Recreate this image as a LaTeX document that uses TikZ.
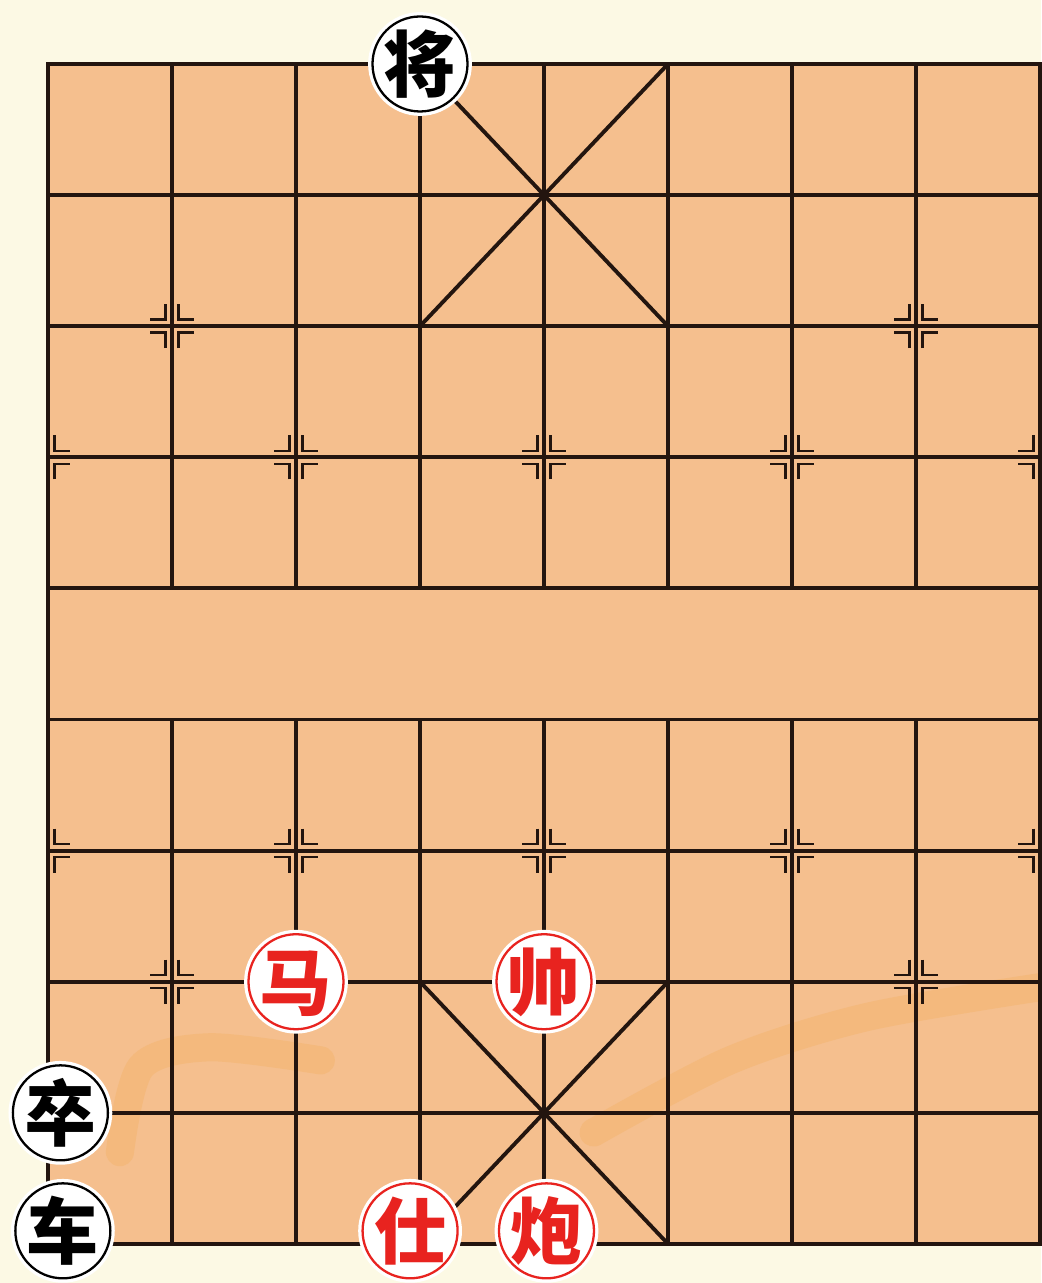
\documentclass[tikz,border=0pt]{standalone}
\usepackage{fontspec}
\usepackage{tikz}
\newfontfamily\cjk{Noto Sans CJK SC}
\definecolor{paper}{HTML}{FCF9E4}
\definecolor{boardbg}{HTML}{F5BF8E}
\definecolor{gridline}{HTML}{23150F}
\definecolor{piecered}{HTML}{E8231F}
\definecolor{brush}{HTML}{F0A030}
% glyph with no size, centred on the node
\newcommand{\pz}[1]{\makebox[0pt]{\raisebox{-0.38em}[0pt][0pt]{#1}}}

\tikzset{
  posmark/.pic={
    \draw[markline] (0.13cm,0.44cm) -- (0.13cm,0.13cm) -- (0.44cm,0.13cm);
    \draw[markline] (0.13cm,-0.44cm) -- (0.13cm,-0.13cm) -- (0.44cm,-0.13cm);
  }
}

\begin{document}
\begin{tikzpicture}[x=2.48cm, y=-2.622cm,
                    gridln/.style={draw=gridline, line width=2.2pt},
                    markline/.style={draw=gridline, line width=1.4pt},
                    piece/.style={circle, fill=white, draw=#1, line width=1.3pt,
                                  minimum size=1.9cm, inner sep=0pt,
                                  preaction={draw=white, line width=5pt},
                                  text=#1, font=\cjk\bfseries\fontsize{41}{41}\selectfont}]
\useasboundingbox (-0.387,-0.488) rectangle (8.008,9.298);
\fill[paper] (-0.387,-0.488) rectangle (8.008,9.298);
\fill[boardbg] (0,0) rectangle (8.008,9);
% faint brush strokes
\draw[brush, opacity=0.18, line width=16pt, line cap=round]
  plot[smooth] coordinates {(0.58,8.3) (0.75,7.65) (1.3,7.5) (2.2,7.6)};
\draw[brush, opacity=0.18, line width=16pt, line cap=round]
  plot[smooth] coordinates {(4.4,8.15) (5.5,7.6) (6.6,7.27) (8.01,7.04)};
% grid
\foreach \r in {0,...,9}
  \draw[gridln] (0,\r) -- (8,\r);
\foreach \c in {1,...,7} {
  \draw[gridln] (\c,0) -- (\c,4);
  \draw[gridln] (\c,5) -- (\c,9);
}
\draw[gridln, line width=2.6pt] (0,0) rectangle (8,9);
% palaces
\draw[gridln] (3,0) -- (5,2) (5,0) -- (3,2);
\draw[gridln] (3,7) -- (5,9) (5,7) -- (3,9);
% position marks
\foreach \c/\r in {1/2,7/2,2/3,4/3,6/3,2/6,4/6,6/6,1/7,7/7} {
  \pic at (\c,\r) {posmark};
  \pic[xscale=-1] at (\c,\r) {posmark};
}
\foreach \r in {3,6} {
  \pic at (0,\r) {posmark};
  \pic[xscale=-1] at (8,\r) {posmark};
}
% pieces
\node[piece=black]    (jiang) at (3,0)       {\pz{将}};
\node[piece=piecered] (ma)    at (2,7)       {\pz{马}};
\node[piece=piecered] (shuai) at (4,7)       {\pz{帅}};
\node[piece=black]    (zu)    at (0.1,8)     {\pz{卒}};
\node[piece=black]    (che)   at (0.12,8.9)  {\pz{车}};
\node[piece=piecered] (shi)   at (2.92,8.9)  {\pz{仕}};
\node[piece=piecered] (pao)   at (4.02,8.9)  {\pz{炮}};
\end{tikzpicture}
\end{document}
